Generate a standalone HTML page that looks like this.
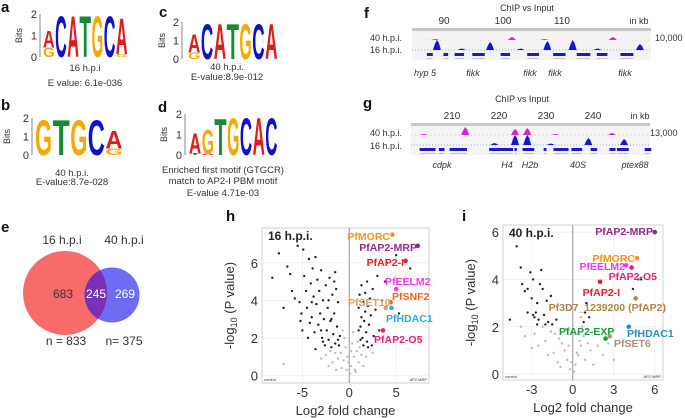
<!DOCTYPE html>
<html><head><meta charset="utf-8">
<style>
html,body{margin:0;padding:0;background:#fff;}
svg{display:block;font-family:"Liberation Sans",sans-serif;}
.pl{font-weight:bold;font-size:15px;fill:#111;}
.cap{font-size:9.5px;fill:#333;text-anchor:middle;}
.tk{font-size:9px;fill:#333;}
.trk{font-size:9px;fill:#333;}
.gl{font-size:9px;fill:#333;font-style:italic;text-anchor:middle;}
.vt{font-size:12px;fill:#333;}
.lbl{font-size:10.5px;font-weight:bold;}
</style></head>
<body>
<svg id="fig" width="685" height="418" viewBox="0 0 685 418">
<rect width="685" height="418" fill="#fff"/>
<!-- panel letters -->
<text class="pl" x="1" y="12">a</text>
<text class="pl" x="1" y="110">b</text>
<text class="pl" x="159" y="17">c</text>
<text class="pl" x="158" y="112">d</text>
<text class="pl" x="1" y="232">e</text>
<text class="pl" x="364" y="18">f</text>
<text class="pl" x="363" y="108">g</text>
<text class="pl" x="226" y="221">h</text>
<text class="pl" x="462" y="221">i</text>

<!-- logo captions -->
<text class="cap" x="85" y="71">16 h.p.i</text>
<text class="cap" x="85" y="86">E value: 6.1e-036</text>
<text class="cap" x="227" y="70">40 h.p.i.</text>
<text class="cap" x="227" y="80">E-value:8.9e-012</text>
<text class="cap" x="72" y="176">40 h.p.i.</text>
<text class="cap" x="72" y="185">E-value:8.7e-028</text>
<text class="cap" x="223" y="173">Enriched first motif (GTGCR)</text>
<text class="cap" x="223" y="184">match to AP2-I PBM motif</text>
<text class="cap" x="223" y="196">E-value 4.71e-03</text>

<!-- venn -->
<text class="vt" x="62" y="244" text-anchor="middle">16 h.p.i</text>
<text class="vt" x="124" y="244" text-anchor="middle">40 h.p.i</text>
<defs><clipPath id="redclip"><circle cx="65" cy="293" r="42"/></clipPath></defs>
<circle cx="65" cy="293" r="42" fill="#f86b6b"/>
<circle cx="112" cy="295" r="27.5" fill="#6f6cf4"/>
<circle cx="112" cy="295" r="27.5" fill="#7a2fb4" clip-path="url(#redclip)"/>
<text class="vt" x="63" y="298" text-anchor="middle" fill="#222">683</text>
<text class="vt" x="96" y="298" text-anchor="middle" style="fill:#fff">245</text>
<text class="vt" x="125" y="298" text-anchor="middle" style="fill:#fff">269</text>
<text class="vt" x="66" y="345" text-anchor="middle">n = 833</text>
<text class="vt" x="124" y="345" text-anchor="middle">n= 375</text>

<!-- tracks -->
<text class="trk" x="527" y="11" text-anchor="middle" font-size="10">ChIP vs Input</text>
<text class="trk" x="522" y="102" text-anchor="middle">ChIP vs Input</text>
<text class="trk" x="370" y="41">40 h.p.i.</text>
<text class="trk" x="370" y="53">16 h.p.i.</text>
<text class="trk" x="370" y="136">40 h.p.i.</text>
<text class="trk" x="370" y="149">16 h.p.i.</text>
<text class="trk" x="655" y="41">10,000</text>
<text class="trk" x="650" y="136">13,000</text>
<text class="trk" x="639" y="24" text-anchor="middle">in kb</text>
<text class="trk" x="640" y="119" text-anchor="middle">in kb</text>
<g id="tracks"></g>

<!-- volcano -->
<g id="volH"></g>
<g id="volI"></g>
<g id="logos"></g>
</svg>
<script>
const NS="http://www.w3.org/2000/svg";
const svg=document.getElementById('fig');
function mk(tag,attrs,parent){const e=document.createElementNS(NS,tag);for(const k in attrs)e.setAttribute(k,attrs[k]);(parent||svg).appendChild(e);return e;}

/* ---------- LOGO DATA ---------- */
const logoAcols=[[['G',0.45],['A',0.8]],[['C',1.95]],[['A',1.95]],[['T',1.95]],[['G',1.95]],[['C',1.95]],[['G',0.15],['A',1.7]]];
const logoBcols=[[['G',1.95]],[['T',1.95]],[['G',1.95]],[['C',1.95]],[['G',0.35],['A',0.95]]];
const logoCcols=[[['G',0.35],['A',1.0]],[['C',1.95]],[['A',1.95]],[['T',1.95]],[['G',1.95]],[['C',1.95]],[['A',1.95]]];
const logoDcols=[[['T',0.08],['A',1.0]],[['A',0.08],['G',1.2]],[['T',1.8]],[['G',1.85]],[['C',1.85]],[['A',1.85]],[['C',1.85]]];
const letterColor={A:'#e01b1b',C:'#1010c8',G:'#f5a900',T:'#158a3a'};
const logoTicks=[0,1,2];

function drawLogo(name,cols,axisX,y0,y2,xs,xe,bitsX){
  const g=mk('g',{});
  
  
  const unit=(y0-y2)/2;
  const ax=mk('line',{x1:axisX,x2:axisX,y1:y2,y2:y0,stroke:'#888','stroke-width':1},g);
  
  
  logoTicks.forEach(t=>{
    const y=y0-t*unit;
    const tl=mk('text',{x:axisX-3,y:y+4,'text-anchor':'end','font-size':'11',fill:'#333'},g);
    tl.textContent=t;
    
    
  });
  const bl=mk('text',{x:bitsX,y:(y0+y2)/2,'text-anchor':'middle','font-size':'9',fill:'#333',transform:`rotate(-90 ${bitsX} ${(y0+y2)/2})`},g);
  bl.textContent='Bits';
  
  
  const w=(xe-xs)/cols.length;
  cols.forEach((col,i)=>{
    let yb=y0;
    col.forEach(([L,h])=>{
      const H=h*unit; if(H<0.5){return;}
      const fs=H/0.716;
      const t=mk('text',{x:xs+i*w,y:yb,'font-size':fs.toFixed(2),'font-weight':'bold',fill:letterColor[L],textLength:(w-0.5).toFixed(2),lengthAdjust:'spacingAndGlyphs'},g);
      t.textContent=L;
      
      
      yb-=H;
    });
  });
}
drawLogo('logo-a',logoAcols,40,57,14,43,128,22);
drawLogo('logo-b',logoBcols,32,155,118,35,123,10);
drawLogo('logo-c',logoCcols,182,59,22,188,278,165);
drawLogo('logo-d',logoDcols,185,155,114,189,278,167);

/* ---------- TRACK DATA ---------- */
const fTicks=[90,100,110];
const fPeaks16=[[88.8,10],[97.8,8],[107.5,9],[111.8,10],[123.2,6],[93,1.5],[103,1.5],[116,1.5]];
const fPeaks40=[[101.5,3],[118.6,3],[88.5,1],[107,1]];
const fGenes=[[87.1,88.1],[89.9,90.7],[91.8,93.4],[94.8,96.9],[99.6,101.2],[104.1,106.1],[108.5,110.6],[112.5,114.8],[115.9,117.7],[119.9,122.1]];
const gTicks=[210,220,230,240];
const gPeaks40=[[212.8,8],[223.4,6],[226,7],[244,2],[232,1],[204,1]];
const gPeaks16=[[223.4,10],[226,10],[239,7],[246.6,6],[219,2],[231,1.5]];
const gGenes=[[203.1,206.5],[207.2,208.4],[209.5,213.2],[217.9,223],[223.3,223.8],[225,227.5],[229.5,230.1],[231.6,234.8],[235.4,237.7],[239.5,240.9],[243.5,244.8],[245.1,247.6],[251,252.4]];

function drawTrack(name,ticks,kb0,px0,pxPerKb,xL,xR,top,p40,p16,genes){
  const g=mk('g',{},document.getElementById('tracks'));
  
  
  const X=k=>px0+(k-kb0)*pxPerKb;
  const bg=mk('rect',{x:xL,y:top+6,width:xR-xL,height:32,fill:'#f4f4f4'},g);
  
  
  const bar=mk('rect',{x:xL,y:top+6,width:xR-xL,height:3,fill:'#c8c8c8'},g);
  
  
  ticks.forEach(t=>{
    const tl=mk('text',{x:X(t),y:top+2,'text-anchor':'middle','font-size':'10',fill:'#333'},g);
    tl.textContent=t;
    
    
  });
  const b40=top+18, b16=top+28;
  const l40=mk('line',{x1:xL,x2:xR,y1:b40,y2:b40,stroke:'#f3a6f0','stroke-width':0.8,'stroke-dasharray':'1 3'},g);
  
  
  const l16=mk('line',{x1:xL,x2:xR,y1:b16,y2:b16,stroke:'#8c8cf0','stroke-width':0.8,'stroke-dasharray':'1 2'},g);
  
  
  p40.forEach(([k,h])=>{
    const x=X(k);
    const p=mk('path',{d:`M${x-4},${b40} L${x-2},${b40-h*0.6} L${x},${b40-h} L${x+2},${b40-h*0.7} L${x+4},${b40} Z`,fill:'#e020d8'},g);
    
    
  });
  p16.forEach(([k,h])=>{
    const x=X(k);
    const p=mk('path',{d:`M${x-4},${b16} L${x-2},${b16-h*0.6} L${x},${b16-h} L${x+2},${b16-h*0.7} L${x+4},${b16} Z`,fill:'#1515d8'},g);
    
    
  });
  genes.forEach(([a,b])=>{
    const r=mk('rect',{x:X(a),y:top+31,width:Math.max(1.5,X(b)-X(a)),height:3,fill:'#1a1ac8'},g);
    
    
    const ln=mk('line',{x1:X(a),x2:X(b),y1:top+36.5,y2:top+36.5,stroke:'#bbb','stroke-width':0.8},g);
    
    
  });
}
drawTrack('track-f',fTicks,90,444,5.9,412,651,22,fPeaks40,fPeaks16,fGenes);
drawTrack('track-g',gTicks,210,452,4.7,411,650,117,gPeaks40,gPeaks16,gGenes);
const fGeneNames=[['hyp 5',425],['fikk',473],['fikk',530],['fikk',555],['fikk',625]];
const gGeneNames=[['cdpk',442],['H4',507],['H2b',530],['40S',578],['ptex88',635]];
fGeneNames.forEach(([n,x])=>{const t=mk('text',{x:x,y:76,class:'gl'});t.textContent=n;

});
gGeneNames.forEach(([n,x])=>{const t=mk('text',{x:x,y:168,class:'gl'});t.textContent=n;

});

/* ---------- VOLCANO DATA ---------- */
const hXTicks=[-5,0,5];
const hYTicks=[0,2,4,6];
const hBlack=[[-8.2,5.2],[-7.5,6.5],[-7,3.6],[-6.6,5.8],[-6.1,4.5],[-5.8,4.1],[-5.5,6.9],[-5.3,3.9],[-5.1,3.3],[-5,2.4],[-4.9,6.7],[-4.8,5.3],[-4.6,4.5],[-4.5,3.6],[-4.3,6.2],[-4.2,2.8],[-4.1,4.9],[-4,3.1],[-3.9,5.7],[-3.8,4.2],[-3.7,2.3],[-3.6,6.3],[-3.5,3.8],[-3.4,5.1],[-3.3,2.7],[-3.2,4.5],[-3.1,3.3],[-3,5.6],[-2.9,2.0],[-2.8,4.0],[-2.7,3.0],[-2.6,1.6],[-2.5,4.8],[-2.4,2.4],[-2.3,3.6],[-2.2,1.9],[-2.1,5.2],[-2,2.9],[-1.9,1.5],[-1.8,4.3],[-1.7,2.2],[-1.6,3.3],[-1.5,1.7],[-1.4,4.6],[-1.3,2.6],[-1.2,3.9],[-1.1,1.6],[-1,2.1],[-1.6,5.0],[-2.8,1.8],[-3.6,1.4],[-4.4,2.0],[-5.2,2.9],[-6.3,5.4],[-1.9,3.0],[-2.2,4.0],[-3.0,2.4],[-4.0,3.9],[-1.2,1.9],[-1.5,5.5],[1,3.6],[1.1,4.3],[1.2,2.6],[1.3,3.1],[1.3,4.8],[1.4,2.0],[1.5,3.9],[1.5,1.6],[1.6,2.9],[1.7,4.4],[1.7,3.4],[1.8,2.3],[1.9,5.0],[1.9,1.8],[2,3.7],[2.1,2.7],[2.2,4.1],[2.3,3.2],[2.4,1.6],[2.5,4.6],[2.6,2.1],[2.8,3.5],[3,5.3],[3.2,2.4],[3.5,4.0],[4,6.0],[5,6.4],[6.5,5.7],[5.3,3.3],[3.8,5.0],[1.2,1.9],[2.0,1.5],[1.0,2.4]];
const hGrey=[[-0.3,0.3],[0.2,0.5],[-0.6,0.8],[0.5,1.0],[-0.9,1.2],[0.8,1.3],[-1.2,0.9],[1.0,0.7],[-0.4,1.5],[0.3,1.7],[-1.5,1.2],[1.3,1.1],[-0.8,0.4],[0.6,0.3],[-2,1.3],[1.8,1.0],[-0.2,1.0],[0.1,0.1],[-1.1,1.6],[0.9,1.8],[-2.5,1.1],[-0.5,2.0],[0.4,2.3],[-1.8,0.7],[1.5,0.5],[-0.1,0.7],[0.7,0.2],[-7,0.6],[-3,0.9],[2.5,1.2],[-1.4,0.3],[1.1,1.5],[-0.7,2.4],[0.2,1.3],[-2.2,0.5]];
const hLabels=['PfMORC','PfAP2-MRP','PfAP2-I','PfEELM2','PfSNF2','PfSET10','PfHDAC1','PfAP2-O5'];
const hLabelX=[4.6,7.3,6.0,5.0,4.4,3.9,4.5,3.6];
const hLabelY=[7.5,6.9,6.1,4.6,3.9,3.6,3.6,2.4];
const hColors=['#f7941d','#93278f','#ed1c24','#ff33ff','#f26522','#d9a066','#29abe2','#ec1e79'];
const hTextPos=[[390,240,'end'],[417,251,'end'],[404,266,'end'],[385,285,'start'],[392,300,'start'],[348,306,'start'],[386,322,'start'],[374,343,'start']];

const iXTicks=[-3,0,3,6];
const iYTicks=[0,2,4,6];
const iBlack=[[-4.6,2.3],[-4.1,5.4],[-3.8,4.5],[-3.7,3.8],[-3.5,3.5],[-3.3,3.6],[-3.1,4.3],[-3.0,3.2],[-2.9,4.0],[-2.8,2.4],[-2.7,2.6],[-2.6,3.0],[-2.5,2.3],[-2.4,3.8],[-2.3,4.4],[-2.2,3.6],[-2.1,2.5],[-2.0,2.1],[-1.9,3.1],[-1.8,2.2],[-1.6,3.3],[-1.5,2.1],[-3.3,2.6],[-2.9,2.5],[-1.2,2.3],[-2.6,2.1],[0.9,2.6],[1.0,3.0],[1.2,2.4],[0.8,2.2],[4.8,4.0],[5.0,4.0],[4.4,3.6]];
const iGrey=[[-0.2,0.2],[0.2,0.4],[-0.4,0.6],[0.4,0.8],[-0.6,1.0],[0.6,1.2],[-0.8,1.3],[0.8,1.6],[-1,1.5],[1,1.9],[-1.3,1.7],[0.7,2.0],[-1.6,1.8],[0.5,1.4],[-2,1.4],[0.3,0.9],[-2.5,1.2],[1.3,1.0],[-3,1.1],[1.8,1.2],[-3.5,1.6],[2.2,0.8],[-0.1,0.5],[0.1,0.1],[-1.1,0.5],[0.9,0.6],[-1.8,0.8],[1.5,0.4],[-0.5,1.9],[0.6,2.4],[-2.2,2.0],[2.6,1.3],[-1.4,0.9],[1.1,1.3],[-0.3,1.2],[-3.8,2.0],[3,0.6],[-0.9,0.3],[0.4,1.7],[-2.8,1.7]];
const iLabels=['PfAP2-MRP','PfMORC','PfEELM2','PfAP2-O5','PfAP2-I','Pf3D7_1239200 (PfAP2)','PfAP2-EXP','PfHDAC1','PfSET6'];
const iLabelX=[6.0,4.7,3.9,4.3,2.0,4.6,2.4,4.1,2.7];
const iLabelY=[6.0,4.9,4.6,4.5,3.9,3.2,1.5,2.0,1.6];
const iColors=['#93278f','#f7941d','#ff33ff','#ec1e79','#ed1c24','#b5834a','#1a9c3a','#2b8cbf','#b08d7e'];
const iTextPos=[[653,235,'end'],[635,262,'end'],[625,270,'end'],[657,280,'end'],[620,296,'end'],[666,311,'end'],[559,335,'start'],[627,337,'start'],[614,347,'start']];

function drawVolcano(gid,name,box,xr,yr,xTicks,yTicks,black,grey,labels,lx,ly,cols,tpos,title){
  const g=document.getElementById(gid);
  
  
  const [L,T,R,B]=box;
  const X=v=>L+(v-xr[0])/(xr[1]-xr[0])*(R-L);
  const Y=v=>B-(v-yr[0])/(yr[1]-yr[0])*(B-T);
  const fr=mk('rect',{x:L,y:T,width:R-L,height:B-T,fill:'#fff',stroke:'#d0d0d0','stroke-width':1},g);
  
  
  xTicks.forEach(t=>{
    const gl=mk('line',{x1:X(t),x2:X(t),y1:T,y2:B,stroke:'#eee','stroke-width':0.8},g);
    
    
    const tl=mk('text',{x:X(t),y:B+14,'text-anchor':'middle','font-size':'13',fill:'#333'},g);
    tl.textContent=t<0?'-'+Math.abs(t):t;
    
    
  });
  yTicks.forEach(t=>{
    const gl=mk('line',{x1:L,x2:R,y1:Y(t),y2:Y(t),stroke:'#eee','stroke-width':0.8},g);
    
    
    const tl=mk('text',{x:L-4,y:Y(t)+5,'text-anchor':'end','font-size':'13',fill:'#333'},g);
    tl.textContent=t;
    
    
  });
  const zl=mk('line',{x1:X(0),x2:X(0),y1:T,y2:B,stroke:'#999','stroke-width':1},g);
  
  
  grey.forEach(([x,y])=>{
    const c=mk('circle',{cx:X(x),cy:Y(y),r:1.2,fill:'#bdbdbd'},g);
    
    
  });
  black.forEach(([x,y])=>{
    const c=mk('circle',{cx:X(x),cy:Y(y),r:1.2,fill:'#222'},g);
    
    
  });
  labels.forEach((lab,i)=>{
    const c=mk('circle',{cx:X(lx[i]),cy:Y(ly[i]),r:2.3,fill:cols[i]},g);
    
    
    const t=mk('text',{x:tpos[i][0],y:tpos[i][1],'text-anchor':tpos[i][2],class:'lbl',fill:cols[i]},g);
    t.textContent=lab;
    
    
  });
  const ti=mk('text',{x:L+6,y:T+12,'font-size':'12','font-weight':'bold',fill:'#222'},g);
  ti.textContent=title;
  
  
  const c1=mk('text',{x:L+2,y:B-2,'font-size':'4',fill:'#333'},g);
  c1.textContent='control';
  
  
  const c2=mk('text',{x:R-2,y:B-2,'font-size':'4',fill:'#333','text-anchor':'end'},g);
  c2.textContent='AP2.MRP';
  
  
  const xt=mk('text',{x:(L+R)/2,y:B+32,'text-anchor':'middle','font-size':'13',fill:'#333'},g);
  xt.textContent='Log2 fold change';
  
  
  const yx=L-28, yy=(T+B)/2;
  const yt=mk('text',{x:yx,y:yy,'text-anchor':'middle','font-size':'13',fill:'#333',transform:`rotate(-90 ${yx} ${yy})`},g);
  yt.innerHTML='-log<tspan font-size="9" dy="3">10</tspan><tspan dy="-3"> (P value)</tspan>';
  
  
}
drawVolcano('volH','volcano-h',[262,228,429,383],[-9.3,8.5],[-0.4,7.85],hXTicks,hYTicks,hBlack,hGrey,hLabels,hLabelX,hLabelY,hColors,hTextPos,'16 h.p.i.');
drawVolcano('volI','volcano-i',[503,225,663,380],[-5.1,6.6],[-0.25,6.3],iXTicks,iYTicks,iBlack,iGrey,iLabels,iLabelX,iLabelY,iColors,iTextPos,'40 h.p.i.');
</script>
</body></html>
